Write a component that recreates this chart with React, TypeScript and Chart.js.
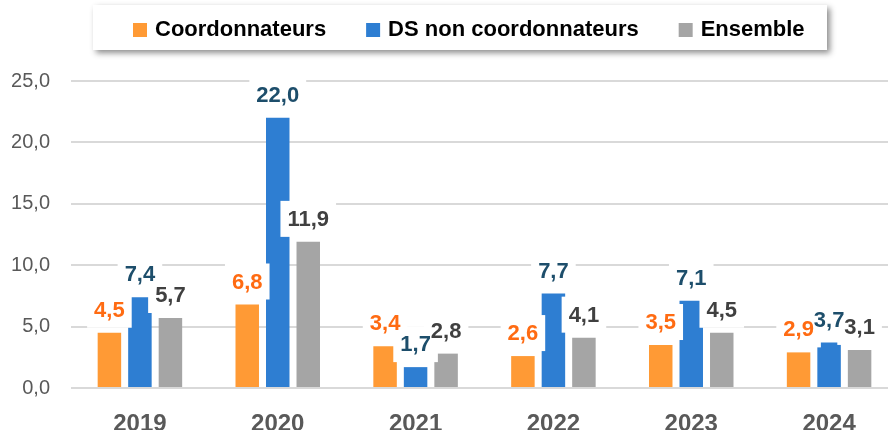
import React, { useEffect, useRef } from 'react';
import { Chart, registerables } from 'chart.js';

Chart.register(...registerables);

const categories = ['2019', '2020', '2021', '2022', '2023', '2024'];
const seriesLabels = ['Coordonnateurs', 'DS non coordonnateurs', 'Ensemble'];
const coordonnateurs = [4.5, 6.8, 3.4, 2.6, 3.5, 2.9];
const dsNonCoordonnateurs = [7.4, 22.0, 1.7, 7.7, 7.1, 3.7];
const ensemble = [5.7, 11.9, 2.8, 4.1, 4.5, 3.1];
const yTicks = [0, 5, 10, 15, 20, 25];

const barColors = ['#FF9A35', '#2E7ED2', '#A5A5A5'];
const labelColors = ['#FF6B12', '#1D4E6B', '#404040'];
const FONT = '"Liberation Sans", Arial, sans-serif';

const fmt = (v: number) => Number(v).toFixed(1).replace('.', ',');

const legendPlugin = {
  id: 'customLegend',
  afterDraw(chart: any) {
    const ctx = chart.ctx;
    ctx.save();
    ctx.shadowColor = 'rgba(0,0,0,0.45)';
    ctx.shadowBlur = 6;
    ctx.shadowOffsetX = 3;
    ctx.shadowOffsetY = 3;
    ctx.fillStyle = '#ffffff';
    ctx.fillRect(93, 5, 734, 45);
    ctx.restore();
    ctx.save();
    ctx.font = `bold 22px ${FONT}`;
    ctx.textBaseline = 'middle';
    ctx.textAlign = 'left';
    let x = 133;
    chart.data.datasets.forEach((ds: any) => {
      ctx.fillStyle = ds.backgroundColor;
      ctx.fillRect(x, 23, 14, 14);
      ctx.fillStyle = '#000000';
      ctx.fillText(ds.label, x + 22, 30);
      x += 22 + ctx.measureText(ds.label).width + 40;
    });
    ctx.restore();
  },
};

const labelPlugin = {
  id: 'boxedLabels',
  afterDatasetsDraw(chart: any) {
    const ctx = chart.ctx;
    ctx.save();
    ctx.font = `bold 22px ${FONT}`;
    ctx.textAlign = 'center';
    ctx.textBaseline = 'middle';
    const items: any[] = [];
    chart.data.datasets.forEach((ds: any, di: number) => {
      const meta = chart.getDatasetMeta(di);
      meta.data.forEach((bar: any, i: number) => {
        const t = fmt(ds.data[i]);
        const w = ctx.measureText(t).width + 14;
        const h = 36;
        const cy = bar.y - 5 - h / 2;
        items.push({ t, x: bar.x, cy, w, h, color: labelColors[di] });
      });
    });
    ctx.fillStyle = '#ffffff';
    items.forEach((it) => ctx.fillRect(it.x - it.w / 2, it.cy - it.h / 2, it.w, it.h));
    items.forEach((it) => {
      ctx.fillStyle = it.color;
      ctx.fillText(it.t, it.x, it.cy + 1);
    });
    ctx.restore();
  },
};

export default function App() {
  const ref = useRef<HTMLCanvasElement | null>(null);

  useEffect(() => {
    if (!ref.current) return;
    const values = [coordonnateurs, dsNonCoordonnateurs, ensemble];
    const chart = new Chart(ref.current, {
      type: 'bar',
      data: {
        labels: categories,
        datasets: seriesLabels.map((label, i) => ({
          label,
          data: values[i],
          backgroundColor: barColors[i],
          borderWidth: 0,
          categoryPercentage: 0.664,
          barPercentage: 0.77,
        })),
      },
      options: {
        responsive: false,
        animation: false,
        devicePixelRatio: 1,
        layout: { padding: { top: 81, left: 0, right: 0, bottom: 0 } },
        plugins: {
          legend: { display: false },
          tooltip: { enabled: false },
        },
        scales: {
          x: {
            grid: { display: false },
            border: { display: false },
            ticks: {
              color: '#595959',
              font: { family: FONT, size: 24, weight: 'bold' },
              padding: 14,
            },
            afterFit: (s: any) => {
              s.height = 42;
            },
          },
          y: {
            min: 0,
            max: 25,
            afterBuildTicks: (s: any) => {
              s.ticks = yTicks.map((v) => ({ value: v }));
            },
            ticks: {
              color: '#595959',
              font: { family: FONT, size: 20 },
              padding: 21,
              callback: (v: any) => fmt(v),
            },
            grid: { color: '#D9D9D9', lineWidth: 2, drawTicks: false },
            border: { display: false },
            afterFit: (s: any) => {
              s.width = 71;
            },
          },
        },
      },
      plugins: [labelPlugin, legendPlugin],
    });
    return () => chart.destroy();
  }, []);

  return (
    <div
      style={{
        position: 'absolute',
        left: 0,
        top: 0,
        width: 888,
        height: 430,
        overflow: 'hidden',
        background: '#ffffff',
      }}
    >
      <canvas ref={ref} width={898} height={430} style={{ display: 'block', width: 898, height: 430 }} />
    </div>
  );
}
